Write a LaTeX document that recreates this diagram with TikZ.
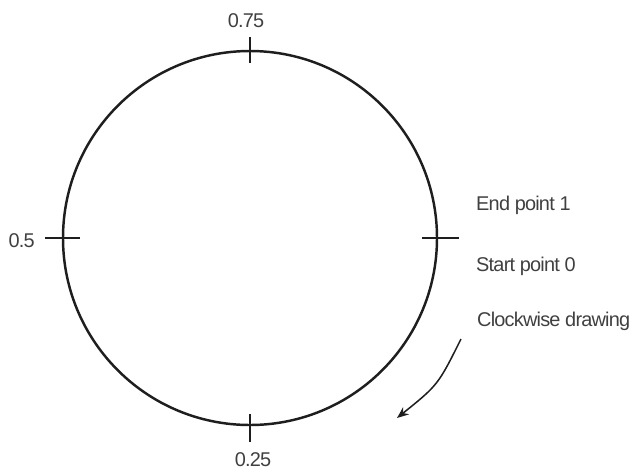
\documentclass[tikz,border=0pt]{standalone}
\usepackage{fontspec}
\setsansfont[LetterSpace=-4]{Liberation Sans}
\usepackage{tikz}
\usetikzlibrary{arrows.meta,calc}
\definecolor{inkcol}{HTML}{1e1e1e}
\tikzset{
  ticklbl/.style={font=\sffamily\fontsize{17}{20}\selectfont, text=inkcol!85, inner sep=0pt},
  tickmark/.style={inkcol, line width=1.2pt},
}

\begin{document}
\begin{tikzpicture}[x=0.03cm, y=-0.03cm]
\useasboundingbox (0,0) rectangle (642,471);
\coordinate (c) at (250,238);
\draw[inkcol, line width=2.1pt] (c) circle (187);

% tick marks at the four quarter points
\coordinate (q0) at (437,238);
\coordinate (q1) at (250,425);
\coordinate (q2) at (63,238);
\coordinate (q3) at (250,51);
\draw[tickmark] ($(q0)+(-15,0)$) -- ($(q0)+(22,0)$);
\draw[tickmark] ($(q1)+(0,-11)$) -- ($(q1)+(0,17)$);
\draw[tickmark] ($(q2)+(-18,0)$) -- ($(q2)+(17,0)$);
\draw[tickmark] ($(q3)+(0,-14)$) -- ($(q3)+(0,12)$);

\node[ticklbl, anchor=base] (lblTop) at (246,27) {0.75};
\node[ticklbl, anchor=base east] (lblLeft) at (35,247) {0.5};
\node[ticklbl, anchor=base] (lblBottom) at (253,466) {0.25};

\node[ticklbl, anchor=base west] (lblEnd) at (476,210) {End point 1};
\node[ticklbl, anchor=base west] (lblStart) at (476,271) {Start point 0};
\node[ticklbl, anchor=base west] (lblDir) at (477,326) {Clockwise drawing};

\coordinate (arrFrom) at (461,339);
\coordinate (arrTo) at (397,418);
\draw[inkcol, line width=1.3pt, -{Stealth[length=10pt,width=8pt]}] (arrFrom) .. controls (438,385) .. (arrTo);
\end{tikzpicture}
\end{document}
